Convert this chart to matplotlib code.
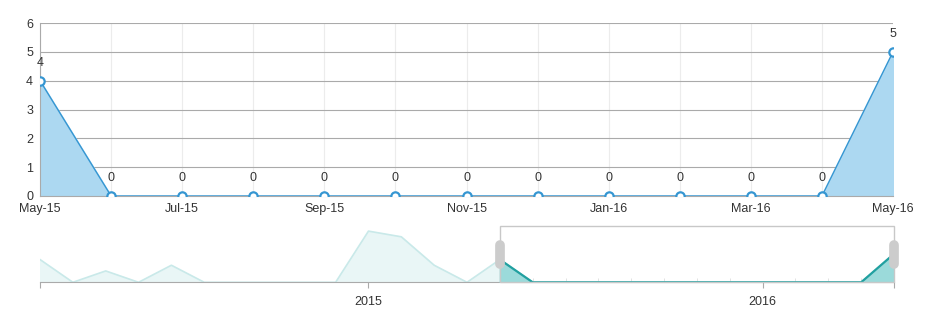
import matplotlib
matplotlib.use("Agg")
import matplotlib.pyplot as plt
from matplotlib.patches import Rectangle

# monthly counts, Mar-14 .. May-16 (overview), main chart shows May-15 .. May-16
all_months = ['Mar-14', 'Apr-14', 'May-14', 'Jun-14', 'Jul-14', 'Aug-14', 'Sep-14',
              'Oct-14', 'Nov-14', 'Dec-14', 'Jan-15', 'Feb-15', 'Mar-15', 'Apr-15',
              'May-15', 'Jun-15', 'Jul-15', 'Aug-15', 'Sep-15', 'Oct-15', 'Nov-15',
              'Dec-15', 'Jan-16', 'Feb-16', 'Mar-16', 'Apr-16', 'May-16']
all_counts = [4, 0, 2, 0, 3, 0, 0, 0, 0, 0, 9, 8, 3, 0,
              4, 0, 0, 0, 0, 0, 0, 0, 0, 0, 0, 0, 5]
zoom_start = 14  # May-15
year_ticks = ['2015', '2016']
year_tick_months = ['Jan-15', 'Jan-16']

months = all_months[zoom_start:]
counts = all_counts[zoom_start:]

plt.rcParams['font.family'] = ['Liberation Sans', 'DejaVu Sans']

fig = plt.figure(figsize=(9.32, 3.11), dpi=100)
W, H = 932, 311

# ---------- main chart ----------
ax = fig.add_axes([40 / W, 1 - 196 / H, 853 / W, 173 / H])
x = list(range(len(months)))
line_c = '#3596d2'
ax.fill_between(x, counts, 0, color='#acd8f1', zorder=1)
ax.plot(x, counts, color=line_c, lw=1, zorder=3)
ax.plot(x, counts, ls='none', marker='o', ms=6, mfc='white', mec=line_c, mew=1.6, zorder=4)
for xi, v in zip(x, counts):
    ax.annotate(str(v), (xi, v), xytext=(0, 13), textcoords='offset points',
                ha='center', va='center', fontsize=9, color='#333333',
                annotation_clip=False)

ax.set_xlim(0, len(months) - 1)
ax.set_ylim(0, 6)
ax.set_yticks(range(0, 7))
ax.set_xticks(x, minor=True)
ax.set_xticks(x[::2])
ax.set_xticklabels(months[::2])
ax.grid(True, which='minor', axis='x', color='#ececec', lw=0.8)
ax.grid(True, which='major', axis='x', color='#ececec', lw=0.8)
ax.grid(True, which='major', axis='y', color='#aaaaaa', lw=0.8)
ax.set_axisbelow(True)
ax.tick_params(which='both', length=0, labelsize=9, colors='#333333')
ax.tick_params(axis='y', pad=5)
ax.tick_params(axis='x', pad=5)
for s in ['top', 'right']:
    ax.spines[s].set_visible(False)
ax.spines['left'].set_color('#aaaaaa')
ax.spines['bottom'].set_color('#aaaaaa')

# ---------- overview / slider ----------
ov_top = 9.9
ov = fig.add_axes([40 / W, 1 - 282.3 / H, 854 / W, 56.3 / H])
xo = list(range(len(all_months)))
ov.fill_between(xo, all_counts, 0, color='#e9f6f6', zorder=1)
ov.plot(xo, all_counts, color='#c9e9e9', lw=1.2, zorder=2)
xs = xo[zoom_start:]
ov.fill_between(xs, counts, 0, color='#9bdada', zorder=3)
ov.plot(xs, counts, color='#21a0a0', lw=1.6, zorder=4)
ov.set_xlim(0, len(all_months) - 1)
ov.set_ylim(0, ov_top)
ov.set_yticks([])
ov.set_xticks([0] + [all_months.index(m) for m in year_tick_months] + [len(all_months) - 1])
ov.set_xticklabels([''] + year_ticks + [''])
ov.set_xticks(xs[1:-1], minor=True)
ov.tick_params(axis='x', which='major', length=4, color='#aaaaaa', labelsize=9,
               labelcolor='#333333', pad=6)
ov.tick_params(axis='x', which='minor', length=3, direction='in', color='#dddddd')
for s in ['top', 'right', 'left']:
    ov.spines[s].set_visible(False)
ov.spines['bottom'].set_color('#aaaaaa')
ov.patch.set_alpha(0)

# selection frame and handles
ov.add_patch(Rectangle((zoom_start, 0), len(all_months) - 1 - zoom_start, ov_top,
                       fill=False, ec='#c8c8c8', lw=1, zorder=5, clip_on=False))
for hx in [zoom_start, len(all_months) - 1]:
    ov.plot([hx, hx], [3.3, 6.5], color='#cccccc', lw=7, solid_capstyle='round',
            zorder=6, clip_on=False)

fig.savefig('out.png', dpi=100)
